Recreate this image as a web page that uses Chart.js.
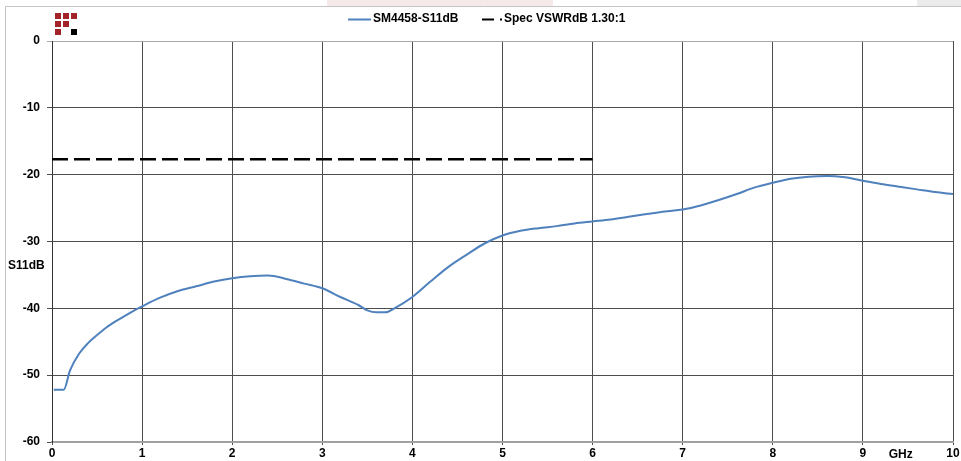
<!DOCTYPE html>
<html>
<head>
<meta charset="utf-8">
<script src="https://cdn.jsdelivr.net/npm/chart.js@4"></script>
<style>
  html, body { margin: 0; padding: 0; background: #fff; }
  #wrap { width: 961px; height: 461px; position: relative; }
</style>
</head>
<body>
<div id="wrap"><canvas id="c" width="961" height="461"></canvas></div>
<script>
// measured S11 (GHz / dB)
const freq = [0.02, 0.13, 0.2, 0.3, 0.4, 0.5, 0.6, 0.7, 0.8, 0.9, 1.0, 1.2, 1.4, 1.6, 1.8, 2.0,
  2.2, 2.4, 2.6, 2.8, 3.0, 3.2, 3.4, 3.5, 3.6, 3.7, 3.8, 4.0, 4.2, 4.4, 4.6, 4.8, 5.0, 5.2, 5.4,
  5.6, 5.8, 6.0, 6.2, 6.4, 6.6, 6.8, 7.0, 7.2, 7.4, 7.6, 7.8, 8.0, 8.2, 8.4, 8.6, 8.8, 9.0, 9.2,
  9.4, 9.6, 9.8, 10.0];
const s11 = [-52.2, -52.2, -49.3, -46.8, -45.2, -44.0, -42.9, -42.0, -41.2, -40.4, -39.7, -38.4,
  -37.4, -36.7, -36.0, -35.5, -35.2, -35.1, -35.6, -36.3, -37.0, -38.3, -39.5, -40.3, -40.6, -40.6,
  -40.0, -38.3, -36.0, -33.8, -32.0, -30.3, -29.1, -28.4, -28.0, -27.7, -27.3, -27.0, -26.7, -26.3,
  -25.9, -25.5, -25.2, -24.6, -23.8, -22.9, -21.9, -21.2, -20.6, -20.3, -20.2, -20.4, -20.9, -21.4,
  -21.8, -22.2, -22.6, -22.9];

// spec limit, VSWR 1.30:1 -> -17.69 dB
const specFreq = [0, 6];
const specDb = [-17.69, -17.69];

const seriesNames = ['SM4458-S11dB', 'Spec VSWRdB 1.30:1'];
const yTitle = 'S11dB';
const xTitle = 'GHz';

const FONT = '"Liberation Sans", Arial, sans-serif';
const BLUE = '#4f81bd';

const frame = {
  id: 'frame',
  beforeDraw(chart) {
    const ctx = chart.ctx;
    ctx.save();
    ctx.fillStyle = '#fff';
    ctx.fillRect(0, 0, chart.width, chart.height);
    ctx.fillStyle = '#f6e9e9';
    ctx.fillRect(327, 0, 226, 6);
    ctx.fillStyle = '#ececec';
    ctx.fillRect(917, 0, 44, 6);
    ctx.strokeStyle = '#c4c4c4';
    ctx.lineWidth = 1;
    ctx.beginPath();
    ctx.moveTo(5.5, chart.height);
    ctx.lineTo(5.5, 6.5);
    ctx.lineTo(chart.width, 6.5);
    ctx.stroke();
    ctx.restore();
  }
};

const extras = {
  id: 'extras',
  afterDraw(chart) {
    const ctx = chart.ctx;
    const x = chart.scales.x, y = chart.scales.y;
    ctx.save();

    // logo
    const cells = [[0, 0], [1, 0], [2, 0], [0, 1], [1, 1], [0, 2]];
    ctx.fillStyle = '#a3232a';
    cells.forEach(([c, r]) => ctx.fillRect(55 + c * 8, 13 + r * 8, 6, 6));
    ctx.fillStyle = '#000';
    ctx.fillRect(71, 29, 6, 6);

    // legend
    ctx.font = 'bold 12px ' + FONT;
    ctx.textBaseline = 'middle';
    ctx.fillStyle = '#000';
    ctx.strokeStyle = BLUE;
    ctx.lineWidth = 2;
    ctx.beginPath();
    ctx.moveTo(348, 19.5);
    ctx.lineTo(371, 19.5);
    ctx.stroke();
    ctx.fillText(seriesNames[0], 373, 19);
    ctx.strokeStyle = '#000';
    ctx.beginPath();
    ctx.moveTo(482, 19.5);
    ctx.lineTo(494, 19.5);
    ctx.moveTo(500, 19.5);
    ctx.lineTo(502, 19.5);
    ctx.stroke();
    ctx.fillText(seriesNames[1], 504, 19);

    // axis titles
    ctx.textAlign = 'left';
    ctx.fillText(yTitle, 8, y.getPixelForValue(-33.6));
    ctx.textAlign = 'center';
    ctx.fillText(xTitle, x.getPixelForValue(9.42), 455);
    ctx.restore();
  }
};

new Chart(document.getElementById('c'), {
  type: 'scatter',
  data: {
    datasets: [{
      label: seriesNames[0],
      data: freq.map((f, i) => ({ x: f, y: s11[i] })),
      showLine: true,
      borderColor: BLUE,
      borderWidth: 2,
      pointRadius: 0,
      cubicInterpolationMode: 'monotone',
      order: 2
    }, {
      label: seriesNames[1],
      data: specFreq.map((f, i) => ({ x: f, y: specDb[i] })),
      showLine: true,
      borderColor: '#000',
      borderWidth: 2.5,
      borderDash: [16, 6],
      pointRadius: 0,
      order: 1
    }]
  },
  options: {
    responsive: false,
    animation: false,
    layout: { padding: { left: 0, right: 8, top: 41, bottom: 0 } },
    plugins: { legend: { display: false }, tooltip: { enabled: false } },
    scales: {
      x: {
        type: 'linear',
        min: 0, max: 10,
        afterFit: s => { s.height = 19; },
        ticks: { stepSize: 1, color: '#000', padding: 1, maxRotation: 0,
          font: { family: FONT, size: 12, weight: 'bold' } },
        grid: { color: '#4d4d4d', lineWidth: 1, tickLength: 3 },
        border: { color: '#a0a0a0', width: 2 }
      },
      y: {
        min: -60, max: 0,
        afterFit: s => { s.width = 52; },
        ticks: { stepSize: 10, color: '#000', padding: 7,
          font: { family: FONT, size: 12, weight: 'bold' } },
        grid: {
          color: c => c.tick && c.tick.value === 0 ? '#a8a8a8' : '#4d4d4d',
          lineWidth: 1, tickLength: 5
        },
        border: { color: '#333', width: 1 }
      }
    }
  },
  plugins: [frame, extras]
});
</script>
</body>
</html>
